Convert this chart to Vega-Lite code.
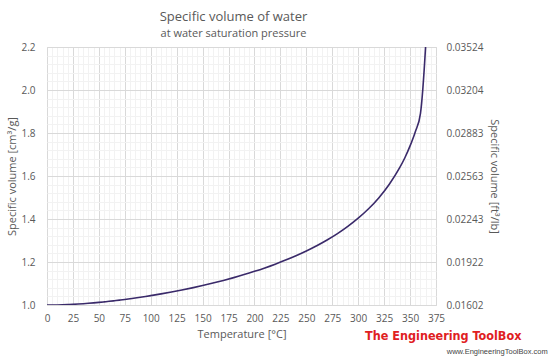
{
  "$schema": "https://vega.github.io/schema/vega-lite/v6.json",
  "autosize": "none",
  "width": 389,
  "height": 258,
  "padding": {"left": 47, "top": 47, "right": 114, "bottom": 53},
  "background": "white",
  "title": {
    "text": "Specific volume of water",
    "subtitle": "at water saturation pressure",
    "font": "Open Sans",
    "subtitleFont": "Open Sans",
    "fontSize": 13,
    "subtitleFontSize": 11,
    "fontWeight": "normal",
    "color": "#595959",
    "subtitleColor": "#595959",
    "anchor": "middle",
    "dx": -8,
    "offset": 3,
    "subtitlePadding": 4
  },
  "config": {
    "view": {"stroke": "#d9d9d9", "strokeWidth": 1},
    "axis": {
      "labelFont": "Open Sans",
      "titleFont": "Open Sans",
      "labelColor": "#595959",
      "titleColor": "#595959",
      "labelFontSize": 10,
      "titleFontSize": 11,
      "titleFontWeight": "normal",
      "ticks": false,
      "domain": false,
      "labelFlush": false
    }
  },
  "datasets": {
    "water": [
      {"t": 0.01, "v": 1.0002},
      {"t": 5, "v": 1.0001},
      {"t": 10, "v": 1.0003},
      {"t": 15, "v": 1.0009},
      {"t": 20, "v": 1.0018},
      {"t": 25, "v": 1.003},
      {"t": 30, "v": 1.0044},
      {"t": 35, "v": 1.006},
      {"t": 40, "v": 1.0079},
      {"t": 45, "v": 1.0099},
      {"t": 50, "v": 1.0121},
      {"t": 55, "v": 1.0146},
      {"t": 60, "v": 1.0171},
      {"t": 65, "v": 1.0199},
      {"t": 70, "v": 1.0228},
      {"t": 75, "v": 1.0258},
      {"t": 80, "v": 1.0291},
      {"t": 85, "v": 1.0324},
      {"t": 90, "v": 1.036},
      {"t": 95, "v": 1.0396},
      {"t": 100, "v": 1.0435},
      {"t": 110, "v": 1.0516},
      {"t": 120, "v": 1.0603},
      {"t": 130, "v": 1.0697},
      {"t": 140, "v": 1.0798},
      {"t": 150, "v": 1.0905},
      {"t": 160, "v": 1.102},
      {"t": 170, "v": 1.1143},
      {"t": 180, "v": 1.1274},
      {"t": 190, "v": 1.1414},
      {"t": 200, "v": 1.1565},
      {"t": 210, "v": 1.1726},
      {"t": 220, "v": 1.19},
      {"t": 230, "v": 1.2088},
      {"t": 240, "v": 1.2291},
      {"t": 250, "v": 1.2512},
      {"t": 260, "v": 1.2755},
      {"t": 270, "v": 1.3023},
      {"t": 280, "v": 1.3321},
      {"t": 290, "v": 1.3656},
      {"t": 300, "v": 1.4036},
      {"t": 310, "v": 1.4475},
      {"t": 320, "v": 1.4992},
      {"t": 330, "v": 1.562},
      {"t": 340, "v": 1.6387},
      {"t": 345, "v": 1.685},
      {"t": 350, "v": 1.74},
      {"t": 355, "v": 1.805},
      {"t": 360, "v": 1.89},
      {"t": 373.95, "v": 3.106}
    ],
    "logo": [
      {"t": 382, "v": 0.855, "label": "The Engineering ToolBox"}
    ],
    "url": [
      {"t": 434, "v": 0.781, "label": "www.EngineeringToolBox.com"}
    ]
  },
  "resolve": {"axis": {"x": "independent", "y": "independent"}},
  "layer": [
    {
      "data": {"name": "water"},
      "mark": {"type": "line", "opacity": 0, "clip": true},
      "encoding": {
        "x": {
          "field": "t", "type": "quantitative",
          "scale": {"domain": [0, 375], "nice": false, "zero": false},
          "axis": {
            "orient": "bottom",
            "values": [5,10,15,20,30,35,40,45,55,60,65,70,80,85,90,95,105,110,115,120,130,135,140,145,155,160,165,170,180,185,190,195,205,210,215,220,230,235,240,245,255,260,265,270,280,285,290,295,305,310,315,320,330,335,340,345,355,360,365,370],
            "grid": true, "gridColor": "#f2f2f2", "labels": false, "title": null
          }
        },
        "y": {
          "field": "v", "type": "quantitative",
          "scale": {"domain": [1.0, 2.2], "nice": false, "zero": false},
          "axis": {
            "orient": "left",
            "values": [1.04,1.08,1.12,1.16,1.24,1.28,1.32,1.36,1.44,1.48,1.52,1.56,1.64,1.68,1.72,1.76,1.84,1.88,1.92,1.96,2.04,2.08,2.12,2.16],
            "grid": true, "gridColor": "#f2f2f2", "labels": false, "title": null
          }
        }
      }
    },
    {
      "data": {"name": "water"},
      "mark": {"type": "line", "color": "#3a2a6a", "strokeWidth": 1.6, "clip": true, "interpolate": "monotone"},
      "encoding": {
        "x": {
          "field": "t", "type": "quantitative",
          "axis": {
            "orient": "bottom",
            "values": [0,25,50,75,100,125,150,175,200,225,250,275,300,325,350,375],
            "grid": true, "gridColor": "#d9d9d9",
            "labelPadding": 8, "title": "Temperature [°C]", "titlePadding": 5
          }
        },
        "y": {
          "field": "v", "type": "quantitative",
          "axis": {
            "orient": "left",
            "values": [1.0,1.2,1.4,1.6,1.8,2.0,2.2],
            "format": ".1f",
            "grid": true, "gridColor": "#d9d9d9",
            "labelPadding": 12, "title": "Specific volume [cm³/g]", "titlePadding": 3
          }
        }
      }
    },
    {
      "data": {"name": "water"},
      "mark": {"type": "line", "opacity": 0, "clip": true},
      "encoding": {
        "x": {"field": "t", "type": "quantitative", "axis": null},
        "y": {
          "field": "v", "type": "quantitative",
          "axis": {
            "orient": "right",
            "values": [1.0,1.2,1.4,1.6,1.8,2.0,2.2],
            "labelExpr": "format(datum.value * 0.016018, '.5f')",
            "grid": false,
            "labelPadding": 10, "title": "Specific volume  [ft³/lb]", "titlePadding": 6
          }
        }
      }
    },
    {
      "data": {"name": "logo"},
      "mark": {"type": "text", "font": "DejaVu Sans Condensed", "fontWeight": "bold", "fontSize": 12.5, "color": "#e0201f", "align": "center", "baseline": "middle", "clip": false},
      "encoding": {
        "x": {"field": "t", "type": "quantitative", "axis": null},
        "y": {"field": "v", "type": "quantitative", "axis": null},
        "text": {"field": "label"}
      }
    },
    {
      "data": {"name": "url"},
      "mark": {"type": "text", "font": "Liberation Sans", "fontSize": 7.5, "color": "#444444", "align": "center", "baseline": "middle", "clip": false},
      "encoding": {
        "x": {"field": "t", "type": "quantitative", "axis": null},
        "y": {"field": "v", "type": "quantitative", "axis": null},
        "text": {"field": "label"}
      }
    }
  ]
}
